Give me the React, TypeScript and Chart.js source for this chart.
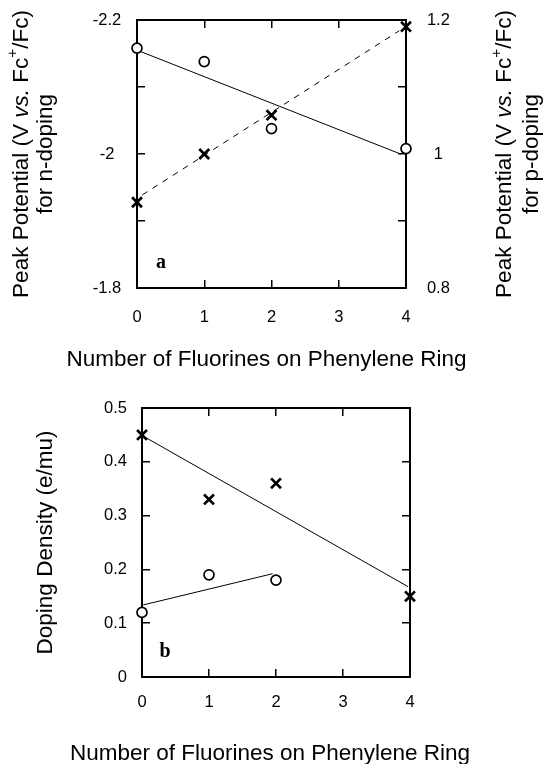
import React, { useEffect, useRef } from 'react';
import { Chart, registerables } from 'chart.js';

Chart.register(...registerables);

// ---------- data: panel a ----------
const fluorines = [0, 1, 2, 4];
const nDopingPeak = [-2.158, -2.138, -2.038, -2.008];
const pDopingPeak = [0.928, 1.0, 1.058, 1.19];
const nFitX = [0, 3.92];
const nFitY = [-2.155, -2.0];
const pFitX = [0.08, 3.9];
const pFitY = [0.939, 1.184];

// ---------- data: panel b ----------
const densityCrossX = [0, 1, 2, 4];
const densityCross = [0.45, 0.33, 0.36, 0.15];
const densityCircleX = [0, 1, 2];
const densityCircle = [0.12, 0.19, 0.18];
const crossFitX = [0, 3.97];
const crossFitY = [0.449, 0.168];
const circleFitX = [0.02, 1.95];
const circleFitY = [0.134, 0.192];

// ---------- texts ----------
const xTitle = 'Number of Fluorines on Phenylene Ring';
const yTitleB = 'Doping Density (e/mu)';
type Seg = { text: string; italic?: boolean; sup?: boolean };
const leftTitleA: Seg[][] = [
  [{ text: 'Peak Potential (V ' }, { text: 'vs.', italic: true }, { text: ' Fc' }, { text: '+', sup: true }, { text: '/Fc)' }],
  [{ text: 'for n-doping' }],
];
const rightTitleA: Seg[][] = [
  [{ text: 'Peak Potential (V ' }, { text: 'vs.', italic: true }, { text: ' Fc' }, { text: '+', sup: true }, { text: '/Fc)' }],
  [{ text: 'for p-doping' }],
];
const panelA = 'a';
const panelB = 'b';

const FONT = '"Liberation Sans", Arial, Helvetica, sans-serif';
const TICK_FONT = { family: FONT, size: 16.5 };
const TITLE_SIZE = 22.5;

const pts = (xs: number[], ys: number[]) => xs.map((x, i) => ({ x, y: ys[i] }));

const gridInward = {
  display: true,
  drawOnChartArea: false,
  drawTicks: true,
  tickLength: -8,
  color: '#000',
  lineWidth: 1.5,
};
const boxBorder = { display: true, color: '#000', width: 2 };

const evenTenthLabel = (v: number) => {
  const k = Math.round(v * 10);
  return k % 2 === 0 ? String(k / 10) : '';
};
const tenthLabel = (v: number) => String(Math.round(v * 10) / 10);

// fixed axis box sizes; no label overhang padding so the plot box is exact
const fixH = (h: number) => (s: any) => {
  s.height = h;
  s.paddingLeft = 0;
  s.paddingRight = 0;
  s.paddingTop = 0;
  s.paddingBottom = 0;
};
const fixW = (w: number) => (s: any) => {
  s.width = w;
  s.paddingLeft = 0;
  s.paddingRight = 0;
  s.paddingTop = 0;
  s.paddingBottom = 0;
};

function drawRich(ctx: CanvasRenderingContext2D, lines: Seg[][], xs: number[], cy: number, size: number) {
  lines.forEach((segs, i) => {
    ctx.save();
    ctx.translate(xs[i], cy);
    ctx.rotate(-Math.PI / 2);
    ctx.textBaseline = 'middle';
    ctx.textAlign = 'left';
    ctx.fillStyle = '#000';
    const fonts = segs.map((s) => {
      const sz = s.sup ? size * 0.68 : size;
      return `${s.italic ? 'italic ' : ''}${sz}px ${FONT}`;
    });
    let total = 0;
    segs.forEach((s, j) => {
      ctx.font = fonts[j];
      total += ctx.measureText(s.text).width;
    });
    let x = -total / 2;
    segs.forEach((s, j) => {
      ctx.font = fonts[j];
      ctx.fillText(s.text, x, s.sup ? -size * 0.38 : 0);
      x += ctx.measureText(s.text).width;
    });
    ctx.restore();
  });
}

const panelLabelPlugin = (text: string, dx: number, dy: number) => ({
  id: 'panelLabel' + text,
  afterDatasetsDraw(chart: any) {
    const { ctx, chartArea } = chart;
    ctx.save();
    ctx.font = 'bold 20px "Liberation Serif", "Times New Roman", serif';
    ctx.fillStyle = '#000';
    ctx.textAlign = 'center';
    ctx.textBaseline = 'alphabetic';
    ctx.fillText(text, chartArea.left + dx, chartArea.bottom - dy);
    ctx.restore();
  },
});

// x-axis title drawn without Chart.js's maxWidth squeeze
const xTitlePlugin = (text: string, dx: number, baselineBelow: number) => ({
  id: 'xTitle',
  afterDraw(chart: any) {
    const { ctx, chartArea } = chart;
    ctx.save();
    ctx.font = `${TITLE_SIZE}px ${FONT}`;
    ctx.fillStyle = '#000';
    ctx.textAlign = 'center';
    ctx.textBaseline = 'alphabetic';
    ctx.fillText(text, (chartArea.left + chartArea.right) / 2 + dx, chartArea.bottom + baselineBelow);
    ctx.restore();
  },
});

const richTitlesPlugin = {
  id: 'richTitlesA',
  afterDraw(chart: any) {
    const { ctx, chartArea } = chart;
    const cy = (chartArea.top + chartArea.bottom) / 2;
    drawRich(ctx, leftTitleA, [chartArea.left - 115.5, chartArea.left - 91], cy, TITLE_SIZE);
    drawRich(ctx, rightTitleA, [chartArea.right + 99, chartArea.right + 126], cy, TITLE_SIZE);
  },
};

const circleStyle = {
  pointStyle: 'circle',
  pointRadius: 5,
  pointHoverRadius: 5,
  pointBorderWidth: 1.7,
  pointBackgroundColor: '#fff',
  pointBorderColor: '#000',
  borderColor: '#000',
  showLine: false,
  order: 1,
  clip: false,
};
const crossStyle = {
  pointStyle: 'crossRot',
  pointRadius: 7,
  pointHoverRadius: 7,
  pointBorderWidth: 2.7,
  pointBorderColor: '#000',
  borderColor: '#000',
  showLine: false,
  order: 1,
  clip: false,
};
const fitStyle = {
  showLine: true,
  borderColor: '#000',
  borderWidth: 1,
  pointRadius: 0,
  pointHoverRadius: 0,
  order: 2,
  clip: false,
};

function makeConfigA(): any {
  return {
    type: 'scatter',
    data: {
      datasets: [
        { label: 'n-doping', data: pts(fluorines, nDopingPeak), yAxisID: 'y', ...circleStyle },
        { label: 'p-doping', data: pts(fluorines, pDopingPeak), yAxisID: 'y2', ...crossStyle },
        { label: 'n-doping fit', data: pts(nFitX, nFitY), yAxisID: 'y', ...fitStyle },
        { label: 'p-doping fit', data: pts(pFitX, pFitY), yAxisID: 'y2', ...fitStyle, borderDash: [6, 6] },
      ],
    },
    options: {
      animation: false,
      responsive: false,
      devicePixelRatio: 1,
      layout: { padding: 0 },
      plugins: { legend: { display: false }, tooltip: { enabled: false } },
      scales: {
        x: {
          type: 'linear', position: 'bottom', min: 0, max: 4,
          ticks: { stepSize: 1, font: TICK_FONT, color: '#000', padding: 27.4, maxRotation: 0, autoSkip: false },
          grid: gridInward, border: boxBorder,
          title: { display: false, text: xTitle },
          afterFit: fixH(94),
        },
        x2: {
          type: 'linear', position: 'top', min: 0, max: 4,
          ticks: { display: false, stepSize: 1 },
          grid: gridInward, border: boxBorder,
          afterFit: fixH(20),
        },
        y: {
          type: 'linear', position: 'left', reverse: true, min: -2.2, max: -1.8,
          ticks: { stepSize: 0.1, callback: evenTenthLabel, font: TICK_FONT, color: '#000', padding: 23.7, crossAlign: 'center', autoSkip: false },
          grid: gridInward, border: boxBorder,
          afterFit: fixW(137),
        },
        y2: {
          type: 'linear', position: 'right', min: 0.8, max: 1.2,
          ticks: { stepSize: 0.1, callback: evenTenthLabel, font: TICK_FONT, color: '#000', padding: 28.9, crossAlign: 'center', autoSkip: false },
          grid: gridInward, border: boxBorder,
          afterFit: fixW(139),
        },
      },
    },
    plugins: [richTitlesPlugin, xTitlePlugin(xTitle, -5, 78), panelLabelPlugin(panelA, 24, 20)],
  };
}

function makeConfigB(): any {
  return {
    type: 'scatter',
    data: {
      datasets: [
        { label: 'crosses', data: pts(densityCrossX, densityCross), ...crossStyle },
        { label: 'circles', data: pts(densityCircleX, densityCircle), ...circleStyle },
        { label: 'crosses fit', data: pts(crossFitX, crossFitY), ...fitStyle },
        { label: 'circles fit', data: pts(circleFitX, circleFitY), ...fitStyle },
      ],
    },
    options: {
      animation: false,
      responsive: false,
      devicePixelRatio: 1,
      layout: { padding: 0 },
      plugins: { legend: { display: false }, tooltip: { enabled: false } },
      scales: {
        x: {
          type: 'linear', position: 'bottom', min: 0, max: 4,
          ticks: { stepSize: 1, font: TICK_FONT, color: '#000', padding: 23.9, maxRotation: 0, autoSkip: false },
          grid: gridInward, border: boxBorder,
          title: { display: false, text: xTitle },
          afterFit: fixH(87),
        },
        x2: {
          type: 'linear', position: 'top', min: 0, max: 4,
          ticks: { display: false, stepSize: 1 },
          grid: gridInward, border: boxBorder,
          afterFit: fixH(26),
        },
        y: {
          type: 'linear', position: 'left', min: 0, max: 0.5,
          ticks: { stepSize: 0.1, callback: tenthLabel, font: TICK_FONT, color: '#000', padding: 23, crossAlign: 'near', autoSkip: false },
          grid: gridInward, border: boxBorder,
          title: { display: true, text: yTitleB, color: '#000', font: { family: FONT, size: TITLE_SIZE, lineHeight: 1 }, padding: { top: 34.75, bottom: 0 } },
          afterFit: fixW(142),
        },
        y2: {
          type: 'linear', position: 'right', min: 0, max: 0.5,
          ticks: { display: false, stepSize: 0.1 },
          grid: gridInward, border: boxBorder,
          afterFit: fixW(135),
        },
      },
    },
    plugins: [xTitlePlugin(xTitle, -6, 83), panelLabelPlugin(panelB, 23, 20)],
  };
}

export default function App() {
  const refA = useRef<HTMLCanvasElement>(null);
  const refB = useRef<HTMLCanvasElement>(null);
  useEffect(() => {
    const a = new Chart(refA.current as HTMLCanvasElement, makeConfigA());
    const b = new Chart(refB.current as HTMLCanvasElement, makeConfigB());
    return () => {
      a.destroy();
      b.destroy();
    };
  }, []);
  return (
    <div style={{ position: 'absolute', left: 0, top: 0, width: 545, height: 764, background: '#fff', overflow: 'hidden' }}>
      <canvas ref={refA} width={545} height={382} style={{ position: 'absolute', left: 0, top: 0, width: 545, height: 382 }} />
      <canvas ref={refB} width={545} height={382} style={{ position: 'absolute', left: 0, top: 382, width: 545, height: 382 }} />
    </div>
  );
}
